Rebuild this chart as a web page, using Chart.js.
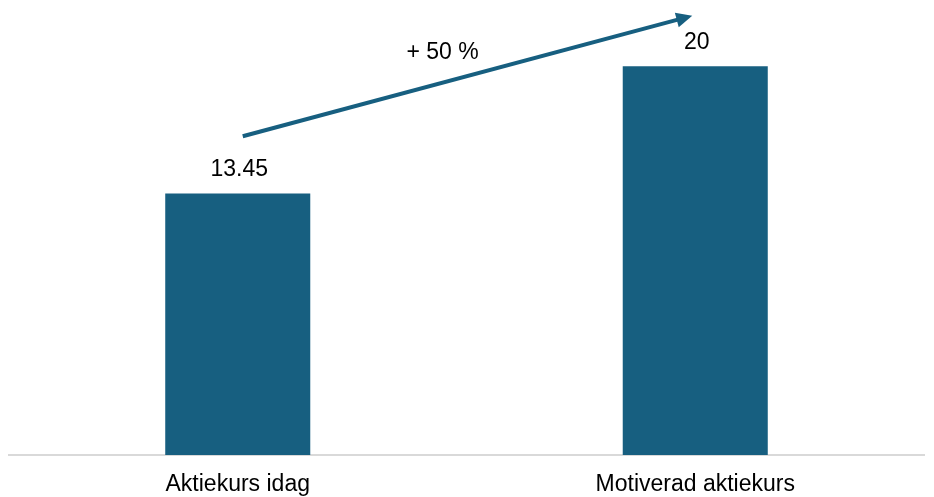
<!DOCTYPE html>
<html>
<head>
<meta charset="utf-8">
<script src="https://cdn.jsdelivr.net/npm/chart.js@4"></script>
<style>
html,body{margin:0;padding:0;background:#fff;}
#wrap{width:934px;height:497px;position:relative;overflow:hidden;}
</style>
</head>
<body>
<div id="wrap"><canvas id="c" width="934" height="497"></canvas></div>
<script>
const categories = ["Aktiekurs idag", "Motiverad aktiekurs"];
const values = [13.45, 20];
const valueLabels = ["13.45", "20"];
const changeLabel = "+ 50 %";

const barColor = "#175F80";
const FONT = "'Liberation Sans', Arial, sans-serif";

// arrow annotation: from first category to second, in value units
const arrowSpec = { fromIndex: 0, fromDx: 5, fromValue: 16.4, toIndex: 1, toDx: -3, toValue: 22.6 };

const overlay = {
  id: 'overlay',
  afterDatasetsDraw(chart) {
    const ctx = chart.ctx;
    const x = chart.scales.x, y = chart.scales.y;
    ctx.save();
    ctx.fillStyle = '#000';
    ctx.font = '23px ' + FONT;
    ctx.textAlign = 'center';
    ctx.textBaseline = 'middle';
    const meta = chart.getDatasetMeta(0);
    meta.data.forEach((bar, i) => {
      ctx.fillText(valueLabels[i], bar.x + 1.5, bar.y - 24);
    });
    const x1 = x.getPixelForValue(arrowSpec.fromIndex) + arrowSpec.fromDx;
    const y1 = y.getPixelForValue(arrowSpec.fromValue);
    const x2 = x.getPixelForValue(arrowSpec.toIndex) + arrowSpec.toDx;
    const y2 = y.getPixelForValue(arrowSpec.toValue);
    const ang = Math.atan2(y2 - y1, x2 - x1);
    const headLen = 16, headW = 7.5;
    const bx = x2 - headLen * Math.cos(ang), by = y2 - headLen * Math.sin(ang);
    ctx.strokeStyle = barColor;
    ctx.lineWidth = 4;
    ctx.lineCap = 'butt';
    ctx.beginPath();
    ctx.moveTo(x1, y1);
    ctx.lineTo(bx + 2 * Math.cos(ang), by + 2 * Math.sin(ang));
    ctx.stroke();
    ctx.fillStyle = barColor;
    ctx.beginPath();
    ctx.moveTo(x2, y2);
    ctx.lineTo(bx + headW * Math.sin(ang), by - headW * Math.cos(ang));
    ctx.lineTo(bx - headW * Math.sin(ang), by + headW * Math.cos(ang));
    ctx.closePath();
    ctx.fill();
    ctx.fillStyle = '#000';
    ctx.font = '23px ' + FONT;
    ctx.fillText(changeLabel, (x1 + x2) / 2 - 25, 53);
    ctx.restore();
  }
};

new Chart(document.getElementById('c'), {
  type: 'bar',
  data: {
    labels: categories,
    datasets: [{
      data: values,
      backgroundColor: barColor,
      borderWidth: 0,
      barPercentage: 1,
      categoryPercentage: 0.317
    }]
  },
  options: {
    responsive: false,
    animation: false,
    layout: { padding: { top: 8, left: 9, right: 10, bottom: 0 } },
    plugins: { legend: { display: false }, tooltip: { enabled: false } },
    scales: {
      x: {
        grid: { display: false, drawTicks: false },
        border: { display: true, color: '#D9D9D9', width: 2 },
        ticks: { color: '#000', padding: 18, font: { family: FONT, size: 23, lineHeight: 1.0 } },
        afterFit(scale) { scale.height = 42; }
      },
      y: {
        display: false,
        min: 0,
        max: 23
      }
    }
  },
  plugins: [overlay]
});
</script>
</body>
</html>
